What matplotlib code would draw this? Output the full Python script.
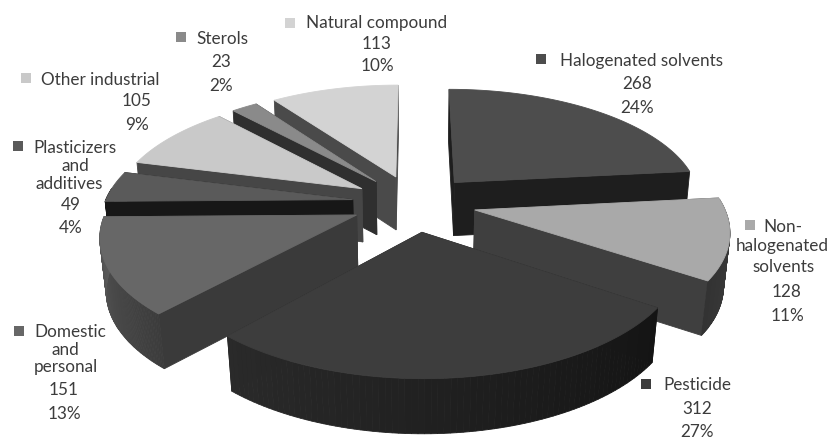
import numpy as np
import matplotlib
matplotlib.use("Agg")
import matplotlib.pyplot as plt
from matplotlib.patches import Polygon, Rectangle

# Source categories, clockwise from twelve o'clock
names = ["Halogenated solvents", "Non-halogenated solvents", "Pesticide",
         "Domestic and personal", "Plasticizers and additives",
         "Other industrial", "Sterols", "Natural compound"]
counts = [268, 128, 312, 151, 49, 105, 23, 113]
percents = [24, 11, 27, 13, 4, 9, 2, 10]

# Label lines per slice (name wrapped as printed, count and share are appended)
label_lines = [["Halogenated solvents"], ["Non-", "halogenated", "solvents"], ["Pesticide"],
               ["Domestic", "and", "personal"], ["Plasticizers", "and", "additives"],
               ["Other industrial"], ["Sterols"], ["Natural compound"]]

# Grey ramps: top face, radial wall, outer wall at the two ends of the arc
top_colors = ["#4d4d4d", "#a9a9a9", "#3d3d3d", "#676767", "#5a5a5a", "#c9c9c9", "#8a8a8a", "#d3d3d3"]
wall_colors = ["#1e1e1e", "#3f3f3f", "#262626", "#3a3a3a", "#171717", "#464646", "#2f2f2f", "#4a4a4a"]
arc_colors = [("#1e1e1e", "#1e1e1e"), ("#3f3f3f", "#333333"), ("#141414", "#2a2a2a"),
              ("#3c3c3c", "#5a5a5a"), ("#171717", "#171717"), ("#464646", "#464646"),
              ("#2f2f2f", "#2f2f2f"), ("#4a4a4a", "#4a4a4a")]

# Painter's order, far slices first
draw_order = [0, 7, 6, 5, 4, 1, 3, 2]

# Projection of the tilted pie onto the page
CX, CY = 414.0, 204.0
SCALE_X, SCALE_Y = 248.0, 113.5
PERSPECTIVE = 0.155
THICKNESS = 54.0
EXPLODE = 0.25
BOTTOM_SHRINK = 0.02


def project(x, y, bottom=False):
    s = 1.0 / (1.0 + PERSPECTIVE * y + (BOTTOM_SHRINK if bottom else 0.0))
    u = CX + SCALE_X * x * s
    v = CY - SCALE_Y * y * s + (THICKNESS * np.sqrt(s) if bottom else 0.0)
    return np.column_stack([u, v])


def mix(c0, c1, t):
    a = np.array(matplotlib.colors.to_rgb(c0))
    b = np.array(matplotlib.colors.to_rgb(c1))
    return a + (b - a) * t


fig = plt.figure(figsize=(8.32, 4.39), dpi=100)
ax = fig.add_axes([0, 0, 1, 1])
ax.set_xlim(0, 832)
ax.set_ylim(439, 0)
ax.axis("off")

edges = np.concatenate([[0], np.cumsum(counts)]) / np.sum(counts) * 2 * np.pi


def face(points, color):
    ax.add_patch(Polygon(points, closed=True, facecolor=color, edgecolor=color, linewidth=0.6))


for i in draw_order:
    a0, a1 = edges[i], edges[i + 1]
    mid = 0.5 * (a0 + a1)
    ox, oy = EXPLODE * np.sin(mid), EXPLODE * np.cos(mid)
    theta = np.linspace(a0, a1, 80)
    xs, ys = ox + np.sin(theta), oy + np.cos(theta)

    top_arc = project(xs, ys)
    low_arc = project(xs, ys, bottom=True)
    apex_top = project(np.array([ox]), np.array([oy]))
    apex_low = project(np.array([ox]), np.array([oy]), bottom=True)

    # Radial walls
    face(np.vstack([apex_top, top_arc[:1], low_arc[:1], apex_low]), wall_colors[i])
    face(np.vstack([apex_top, top_arc[-1:], low_arc[-1:], apex_low]), wall_colors[i])

    # Outer wall, only where it faces the viewer
    for k in range(len(theta) - 1):
        if np.pi / 2 - 0.1 < theta[k] < 3 * np.pi / 2 + 0.1:
            t = k / (len(theta) - 2)
            shade = mix(arc_colors[i][0], arc_colors[i][1], t)
            face(np.vstack([top_arc[k:k + 2], low_arc[k:k + 2][::-1]]), shade)

    face(np.vstack([apex_top, top_arc]), top_colors[i])

# Callouts: marker centre, then a centre x and a y for every text line
marker_xy = [(541, 60), (750, 226), (646, 385), (19, 332), (18, 147), (26, 79), (181, 38), (290, 24)]
line_xs = [[641, 637, 637], [783, 782, 784, 787, 787], [697, 697, 697],
           [70, 65, 66, 64, 64], [75, 75, 69, 71, 71],
           [100, 137, 137], [222, 221, 221], [377, 377, 377]]
line_ys = [[61, 84, 108], [227, 246, 267, 292, 316], [385, 409, 432],
           [332, 350, 367, 390, 414], [148, 166, 184, 205, 228],
           [80, 101, 125], [39, 62, 86], [23, 44, 66]]
TEXT = "#3c3c3c"
FONT_SIZE = 12.3
for i in range(len(names)):
    mx, my = marker_xy[i]
    ax.add_patch(Rectangle((mx - 5, my - 5), 10, 10, facecolor=top_colors[i], edgecolor="none"))
    rows = label_lines[i] + [str(counts[i]), f"{percents[i]}%"]
    for x, y, row in zip(line_xs[i], line_ys[i], rows):
        ax.text(x, y, row, ha="center", va="center",
                family="Lato", fontsize=FONT_SIZE, color=TEXT)

fig.savefig("out.png", dpi=100, facecolor="white")
